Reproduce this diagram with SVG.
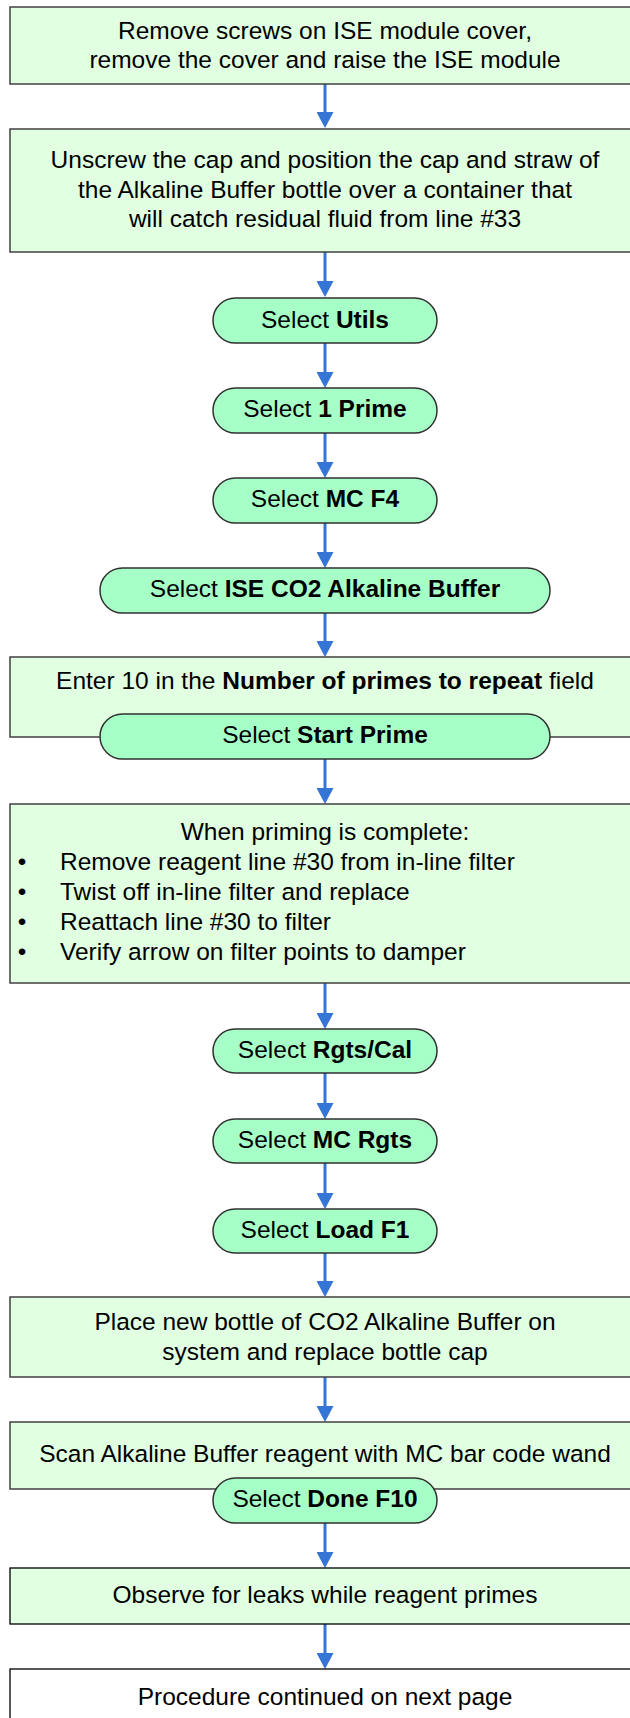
<svg xmlns="http://www.w3.org/2000/svg" width="630" height="1718" viewBox="0 0 630 1718">
<style>
.box{fill:#E1FFE1;stroke:#404040;stroke-width:1.5}
.boxk{fill:#E1FFE1;stroke:#000;stroke-width:1.3}
.boxw{fill:#FFFFFF;stroke:#000;stroke-width:1.3}
.pill{fill:#A6FFC6;stroke:#303030;stroke-width:1.5}
.t{font-family:"Liberation Sans",Arial,sans-serif;font-size:24.5px;fill:#000;text-anchor:middle}
.tl{text-anchor:start}
.b{font-weight:bold}
.conn path{stroke:#3575D6;stroke-width:3;fill:none;marker-end:url(#ah)}
</style>
<defs>
<marker id="ah" markerUnits="userSpaceOnUse" markerWidth="17" markerHeight="17" refX="2" refY="8.5" orient="auto">
<path d="M0,0 L16,8.5 L0,17 z" fill="#3575D6"/>
</marker>
</defs>
<rect x="0" y="0" width="630" height="1718" fill="#FFFFFF"/>

<g id="connectors" class="conn">
<path d="M325,84 V114"/>
<path d="M325,252 V283"/>
<path d="M325,343 V374"/>
<path d="M325,433 V464"/>
<path d="M325,523 V554"/>
<path d="M325,613 V643"/>
<path d="M325,759 V790"/>
<path d="M325,983 V1015"/>
<path d="M325,1073 V1105"/>
<path d="M325,1163 V1195"/>
<path d="M325,1253 V1283"/>
<path d="M325,1377 V1408"/>
<path d="M325,1523 V1554"/>
<path d="M325,1624 V1655"/>
</g>

<g id="n1">
<rect class="box" x="10" y="7" width="640" height="77"/>
<text class="t" x="325" y="39">Remove screws on ISE module cover,</text>
<text class="t" x="325" y="68">remove the cover and raise the ISE module</text>
</g>

<g id="n2">
<rect class="box" x="10" y="129" width="640" height="123"/>
<text class="t" x="325" y="168">Unscrew the cap and position the cap and straw of</text>
<text class="t" x="325" y="198">the Alkaline Buffer bottle over a container that</text>
<text class="t" x="325" y="227">will catch residual fluid from line #33</text>
</g>

<g id="n3">
<rect class="pill" x="213" y="298" width="224" height="45" rx="22.5"/>
<text class="t" x="325" y="328">Select <tspan class="b">Utils</tspan></text>
</g>

<g id="n4">
<rect class="pill" x="213" y="388" width="224" height="45" rx="22.5"/>
<text class="t" x="325" y="417">Select <tspan class="b">1 Prime</tspan></text>
</g>

<g id="n5">
<rect class="pill" x="213" y="478" width="224" height="45" rx="22.5"/>
<text class="t" x="325" y="507">Select <tspan class="b">MC F4</tspan></text>
</g>

<g id="n6">
<rect class="pill" x="100" y="568" width="450" height="45" rx="22.5"/>
<text class="t" x="325" y="597">Select <tspan class="b">ISE CO2 Alkaline Buffer</tspan></text>
</g>

<g id="n7">
<rect class="box" x="10" y="657" width="640" height="80"/>
<text class="t" x="325" y="689">Enter 10 in the <tspan class="b">Number of primes to repeat</tspan> field</text>
</g>

<g id="n8">
<rect class="pill" x="100" y="714" width="450" height="45" rx="22.5"/>
<text class="t" x="325" y="743">Select <tspan class="b">Start Prime</tspan></text>
</g>

<g id="n9">
<rect class="box" x="10" y="804" width="640" height="179"/>
<text class="t" x="325" y="840">When priming is complete:</text>
<text class="t" x="22" y="870">•</text>
<text class="t tl" x="60" y="870">Remove reagent line #30 from in-line filter</text>
<text class="t" x="22" y="900">•</text>
<text class="t tl" x="60" y="900">Twist off in-line filter and replace</text>
<text class="t" x="22" y="930">•</text>
<text class="t tl" x="60" y="930">Reattach line #30 to filter</text>
<text class="t" x="22" y="960">•</text>
<text class="t tl" x="60" y="960">Verify arrow on filter points to damper</text>
</g>

<g id="n10">
<rect class="pill" x="213" y="1029" width="224" height="44" rx="22"/>
<text class="t" x="325" y="1058">Select <tspan class="b">Rgts/Cal</tspan></text>
</g>

<g id="n11">
<rect class="pill" x="213" y="1119" width="224" height="44" rx="22"/>
<text class="t" x="325" y="1148">Select <tspan class="b">MC Rgts</tspan></text>
</g>

<g id="n12">
<rect class="pill" x="213" y="1209" width="224" height="44" rx="22"/>
<text class="t" x="325" y="1238">Select <tspan class="b">Load F1</tspan></text>
</g>

<g id="n13">
<rect class="box" x="10" y="1297" width="640" height="80"/>
<text class="t" x="325" y="1330">Place new bottle of CO2 Alkaline Buffer on</text>
<text class="t" x="325" y="1360">system and replace bottle cap</text>
</g>

<g id="n14">
<rect class="box" x="10" y="1422" width="640" height="67"/>
<text class="t" x="325" y="1462">Scan Alkaline Buffer reagent with MC bar code wand</text>
</g>

<g id="n15">
<rect class="pill" x="213" y="1478" width="224" height="45" rx="22.5"/>
<text class="t" x="325" y="1507">Select <tspan class="b">Done F10</tspan></text>
</g>

<g id="n16">
<rect class="boxk" x="10" y="1568" width="640" height="56"/>
<text class="t" x="325" y="1603">Observe for leaks while reagent primes</text>
</g>

<g id="n17">
<rect class="boxw" x="10" y="1669" width="640" height="60"/>
<text class="t" x="325" y="1705">Procedure continued on next page</text>
</g>
</svg>
